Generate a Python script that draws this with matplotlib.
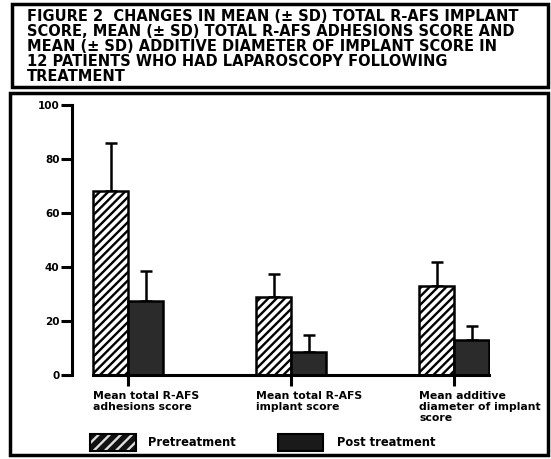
import numpy as np
import matplotlib.pyplot as plt
from matplotlib.patches import Rectangle

categories = ["Mean total R-AFS\nadhesions score",
              "Mean total R-AFS\nimplant score",
              "Mean additive\ndiameter of implant\nscore"]
pre_mean = [68, 29, 33]
pre_sd = [18, 8.5, 9]
post_mean = [27.5, 8.5, 13]
post_sd = [11, 6.5, 5]
series_names = ["Pretreatment", "Post treatment"]
title = ("FIGURE 2  CHANGES IN MEAN (± SD) TOTAL R-AFS IMPLANT\n"
         "SCORE, MEAN (± SD) TOTAL R-AFS ADHESIONS SCORE AND\n"
         "MEAN (± SD) ADDITIVE DIAMETER OF IMPLANT SCORE IN\n"
         "12 PATIENTS WHO HAD LAPAROSCOPY FOLLOWING\n"
         "TREATMENT")

plt.rcParams['hatch.linewidth'] = 1.7
W, H = 551, 459
fig = plt.figure(figsize=(W / 100, H / 100), dpi=100)

def fx(px):
    return px / W

def fy(py):
    return 1 - py / H

# frames
fig.add_artist(Rectangle((fx(12), fy(87)), fx(548) - fx(12), fy(4) - fy(87),
                         transform=fig.transFigure, fill=False, lw=2.5, ec='black'))
fig.add_artist(Rectangle((fx(10), fy(455)), fx(548) - fx(10), fy(93) - fy(455),
                         transform=fig.transFigure, fill=False, lw=2.5, ec='black'))

fig.text(fx(27), fy(9), title, ha='left', va='top', fontsize=10.5,
         fontweight='bold', linespacing=1.0, family='DejaVu Sans')

ax = fig.add_axes([fx(72), fy(375), fx(490) - fx(72), fy(105) - fy(375)])
x = np.arange(len(categories))
w = 0.215
ax.bar(x - w / 2, pre_mean, w, color='white', edgecolor='black', hatch='////',
       lw=1.8, zorder=2)
ax.bar(x + w / 2, post_mean, w, color='#2b2b2b', edgecolor='black', lw=1.8, zorder=2)
ax.errorbar(x - w / 2, pre_mean, yerr=[np.zeros(3), pre_sd], fmt='none',
            ecolor='black', elinewidth=1.8, capsize=4, capthick=1.8, zorder=1)
ax.errorbar(x + w / 2, post_mean, yerr=[np.zeros(3), post_sd], fmt='none',
            ecolor='black', elinewidth=1.8, capsize=4, capthick=1.8, zorder=1)

ax.set_xlim(-0.346, 2.22)
ax.set_ylim(0, 100)
ax.spines['top'].set_visible(False)
ax.spines['right'].set_visible(False)
ax.spines['left'].set_linewidth(2.2)
ax.spines['bottom'].set_linewidth(2.2)
ax.spines['bottom'].set_bounds(-w, 2 + w)
ax.set_yticks([0, 20, 40, 60, 80, 100])
ax.set_yticklabels(['0', '20', '40', '60', '80', '100'], fontsize=7.5, fontweight='bold')
ax.tick_params(axis='y', length=8, width=2.2, pad=1)
ax.set_xticks(x)
ax.set_xticklabels([])
ax.tick_params(axis='x', length=8, width=2.2)

for i, lab in enumerate(categories):
    ax.text(i - w, -6.0, lab, ha='left', va='top', fontsize=7.8, fontweight='bold',
            linespacing=1.1)

# legend
fig.add_artist(Rectangle((fx(90), fy(451)), fx(136) - fx(90), fy(434) - fy(451),
                         transform=fig.transFigure, fc='#111111', ec='#dddddd',
                         hatch='///', lw=0))
fig.add_artist(Rectangle((fx(90), fy(451)), fx(136) - fx(90), fy(434) - fy(451),
                         transform=fig.transFigure, fill=False, ec='black', lw=1.5))
fig.text(fx(148), fy(442), series_names[0], ha='left', va='center',
         fontsize=8.3, fontweight='bold')
fig.add_artist(Rectangle((fx(278), fy(451)), fx(323) - fx(278), fy(434) - fy(451),
                         transform=fig.transFigure, fc='#1a1a1a', ec='black', lw=1.5))
fig.text(fx(337), fy(442), series_names[1], ha='left', va='center',
         fontsize=8.3, fontweight='bold')

fig.savefig('out.png', dpi=100)
